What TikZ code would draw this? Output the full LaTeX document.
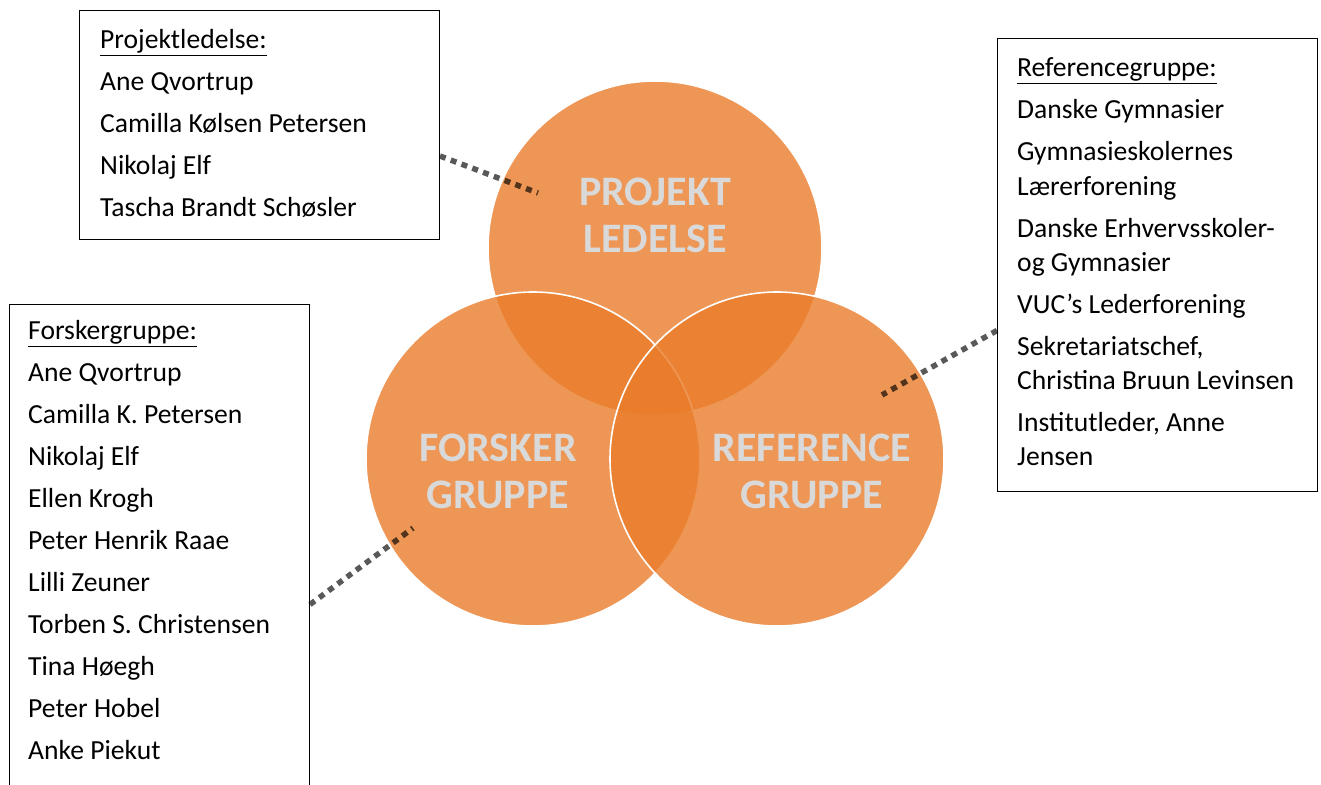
\documentclass[tikz,border=0pt]{standalone}
\usepackage{fontspec}
\setmainfont{Carlito}
\usetikzlibrary{calc}
\definecolor{venn}{HTML}{EA7C2A}
\definecolor{linkgray}{HTML}{595959}
\definecolor{labelgray}{HTML}{D9D9D9}

\begin{document}
\begin{tikzpicture}[x=1pt,y=-1pt,
    bubble/.style={circle, draw=white, line width=1.6pt, fill=venn, fill opacity=0.8,
      minimum size=334pt, inner sep=0pt},
    bubbletext/.style={text=labelgray, font=\fontsize{42}{47}\selectfont\bfseries,
      align=center, inner sep=0pt},
    listbox/.style={draw=black, line width=1pt, inner sep=0pt, anchor=north west},
    listtext/.style={font=\fontsize{27.6}{42}\selectfont, align=left, inner sep=0pt,
      anchor=north west},
    link/.style={draw=linkgray, line width=5.5pt, dash pattern=on 6pt off 5.5pt}]
    \useasboundingbox (0,0) rectangle (1321,784);

    % Kasser med navne
    \node[listbox, minimum width=360pt, minimum height=229pt] (projbox) at (79,10) {};
    \node[listbox, minimum width=320pt, minimum height=453pt] (refbox) at (997,38) {};
    \node[listbox, minimum width=300pt, minimum height=500pt] (forskbox) at (9,304) {};

    \node[listtext] (projlist) at (100,29.5) {\underline{Projektledelse:}\\
      Ane Qvortrup\\ Camilla Kølsen Petersen\\ Nikolaj Elf\\ Tascha Brandt Schøsler};
    \node[listtext] (reflist) at (1017,57.5) {\underline{Referencegruppe:}\\
      Danske Gymnasier\\ Gymnasieskolernes\\[-7.5pt] Lærerforening\\
      Danske Erhvervsskoler-\\[-7.5pt] og Gymnasier\\ VUC’s Lederforening\\
      Sekretariatschef,\\[-8pt] Christina Bruun Levinsen\\
      Institutleder, Anne\\[-8pt] Jensen};
    \node[listtext] (forsklist) at (28,320.5) {\underline{Forskergruppe:}\\
      Ane Qvortrup\\ Camilla K. Petersen\\ Nikolaj Elf\\ Ellen Krogh\\
      Peter Henrik Raae\\ Lilli Zeuner\\ Torben S. Christensen\\ Tina Høegh\\
      Peter Hobel\\ Anke Piekut};

    % Cirkler
    \node[bubble] (proj) at (655,248) {};
    \node[bubble] (forsk) at (533,459) {};
    \node[bubble] (ref) at (777,459) {};

    % Stiplede forbindelser (multiply, saa de bliver brune over cirklerne)
    \coordinate (projend) at (538,193);
    \coordinate (refend) at (882,395);
    \coordinate (forskend) at (413,528);
    \begin{scope}[blend mode=multiply]
      \draw[link] ([yshift=-31pt]projbox.east) -- (projend);
      \draw[link] ([yshift=-65.5pt]refbox.west) -- (refend);
      \draw[link] ([yshift=-50pt]forskbox.east) -- (forskend);
    \end{scope}

    % Etiketter
    \node[bubbletext] (projlabel) at (655,215) {PROJEKT\\LEDELSE};
    \node[bubbletext] (forsklabel) at (498,471) {FORSKER\\GRUPPE};
    \node[bubbletext] (reflabel) at (812,471) {REFERENCE\\GRUPPE};
\end{tikzpicture}
\end{document}
